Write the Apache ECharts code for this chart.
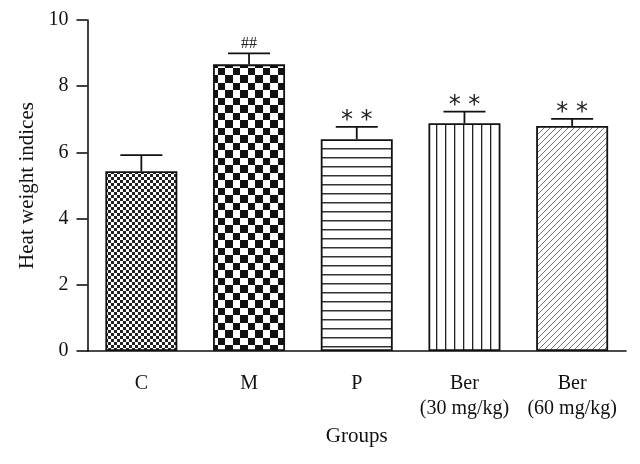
<!DOCTYPE html>
<html>
<head>
<meta charset="utf-8">
<script src="https://cdn.jsdelivr.net/npm/echarts@6/dist/echarts.min.js"></script>
<style>html,body{margin:0;padding:0;background:#fff}#c{width:640px;height:464px}</style>
</head>
<body>
<div id="c"></div>
<script>
var categories = ['C', 'M', 'P', 'Ber\n(30 mg/kg)', 'Ber\n(60 mg/kg)'];
var means = [5.43, 8.66, 6.40, 6.88, 6.80];
var errTops = [5.92, 8.99, 6.77, 7.23, 7.01];
var marks = ['', '##', '**', '**', '**'];
var yTicks = [0, 2, 4, 6, 8, 10];

function mk(w, h, draw) {
  var c = document.createElement('canvas');
  c.width = w; c.height = h;
  var g = c.getContext('2d');
  g.fillStyle = '#fff'; g.fillRect(0, 0, w, h);
  draw(g);
  return { image: c, repeat: 'repeat' };
}
var patterns = [
  mk(6, 6, function (g) { g.fillStyle = '#222'; g.fillRect(0, 0, 3, 3); g.fillRect(3, 3, 3, 3); }),
  mk(15, 15, function (g) { g.fillStyle = '#111'; g.fillRect(0, 0, 8, 8); g.fillRect(8, 8, 7, 7); }),
  mk(9, 9, function (g) { g.fillStyle = '#333'; g.fillRect(0, 4, 9, 1.5); }),
  mk(9, 9, function (g) { g.fillStyle = '#222'; g.fillRect(4, 0, 1.3, 9); }),
  mk(6, 6, function (g) {
    g.strokeStyle = '#666'; g.lineWidth = 0.9;
    g.beginPath();
    g.moveTo(0, 6); g.lineTo(6, 0);
    g.moveTo(-1, 1); g.lineTo(1, -1);
    g.moveTo(5, 7); g.lineTo(7, 5);
    g.stroke();
  })
];

var FONT = 'Liberation Serif';
var chart = echarts.init(document.getElementById('c'), null, { renderer: 'canvas' });
chart.setOption({
  animation: false,
  backgroundColor: '#fff',
  grid: { left: 87.5, right: 14, top: 20, bottom: 113, containLabel: false },
  xAxis: {
    type: 'category',
    data: categories,
    name: 'Groups',
    nameLocation: 'middle',
    nameGap: 75,
    nameTextStyle: { fontFamily: FONT, fontSize: 21, color: '#111' },
    axisLine: { lineStyle: { color: '#111', width: 1.6 } },
    axisTick: { alignWithLabel: true, length: 10, lineStyle: { color: '#111', width: 1.6 } },
    axisLabel: { interval: 0, hideOverlap: false, fontFamily: FONT, fontSize: 20, color: '#111', margin: 20, lineHeight: 25 }
  },
  yAxis: {
    type: 'value',
    min: yTicks[0], max: yTicks[yTicks.length - 1], interval: 2,
    name: 'Heat weight indices',
    nameLocation: 'middle',
    nameGap: 50,
    nameTextStyle: { fontFamily: FONT, fontSize: 21, color: '#111' },
    splitLine: { show: false },
    axisLine: { show: true, lineStyle: { color: '#111', width: 1.6 } },
    axisTick: { show: true, length: 11, lineStyle: { color: '#111', width: 1.6 } },
    axisLabel: { fontFamily: FONT, fontSize: 20, color: '#111', margin: 19 }
  },
  series: [
    {
      type: 'bar',
      barWidth: 72,
      data: means.map(function (v, i) {
        return { value: v, itemStyle: { color: patterns[i], borderColor: '#111', borderWidth: 1.8 } };
      }),
      z: 2
    },
    {
      type: 'custom',
      z: 5,
      data: means.map(function (v, i) { return [i, v, errTops[i]]; }),
      renderItem: function (params, api) {
        var i = api.value(0);
        var top = api.coord([i, api.value(1)]);
        var err = api.coord([i, api.value(2)]);
        var hw = 21;
        var children = [
          { type: 'line', shape: { x1: top[0], y1: top[1], x2: err[0], y2: err[1] }, style: { stroke: '#111', lineWidth: 1.8 } },
          { type: 'line', shape: { x1: err[0] - hw, y1: err[1], x2: err[0] + hw, y2: err[1] }, style: { stroke: '#111', lineWidth: 1.8 } }
        ];
        var m = marks[params.dataIndex];
        if (m) {
          var star = m.charAt(0) === '*';
          children.push({ type: 'text', style: {
            text: star ? m.split('').join(' ') : m,
            x: err[0], y: err[1] + (star ? 6 : -2),
            align: 'center', verticalAlign: 'bottom',
            font: (star ? '24px "DejaVu Sans"' : '16px "' + FONT + '"'), fill: '#222'
          } });
        }
        return { type: 'group', children: children };
      }
    }
  ]
});
</script>
</body>
</html>
